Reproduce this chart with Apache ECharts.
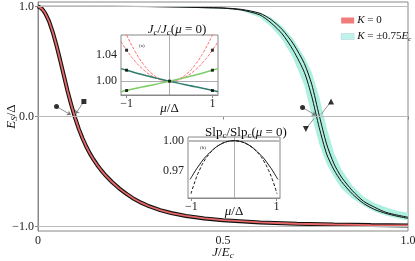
<!DOCTYPE html>
<html><head><meta charset="utf-8">
<script src="https://cdn.jsdelivr.net/npm/echarts@6/dist/echarts.min.js"></script>
<style>html,body{margin:0;padding:0;background:#fff}#c{width:415px;height:261px}</style>
</head><body><div id="c"></div>
<script>
const FONT = 'Liberation Serif';
// ---- main panel data (J/Ec , Es/Delta) ----
const redJ = [0, 0.005, 0.01, 0.015, 0.02, 0.03, 0.04, 0.05, 0.06, 0.07, 0.08, 0.09, 0.1, 0.11, 0.12, 0.13, 0.14, 0.15, 0.16, 0.17, 0.18, 0.2, 0.22, 0.24, 0.26, 0.28, 0.3, 0.33, 0.36, 0.4, 0.45, 0.5, 0.6, 0.7, 0.8, 0.9, 1.0];
const redE = [1.0, 0.995, 0.98, 0.96, 0.935, 0.865, 0.765, 0.645, 0.51, 0.37, 0.23, 0.105, -0.01, -0.11, -0.195, -0.27, -0.335, -0.39, -0.44, -0.485, -0.525, -0.595, -0.655, -0.705, -0.75, -0.785, -0.815, -0.85, -0.877, -0.903, -0.926, -0.942, -0.962, -0.974, -0.981, -0.986, -0.99];
const cyanJ  = [0, 0.1, 0.2, 0.3, 0.4, 0.45, 0.5, 0.55, 0.6, 0.63, 0.66, 0.69, 0.72, 0.74, 0.76, 0.78, 0.8, 0.82, 0.85, 0.88, 0.91, 0.94, 0.97, 1.0];
const cyanHi = [1.0, 1.0, 1.0, 1.0, 0.998, 0.994, 0.988, 0.975, 0.945, 0.90, 0.82, 0.705, 0.54, 0.40, 0.18, -0.10, -0.33, -0.48, -0.63, -0.73, -0.785, -0.825, -0.855, -0.875];
const cyanLo = [1.0, 1.0, 0.999, 0.996, 0.99, 0.984, 0.98, 0.96, 0.90, 0.815, 0.70, 0.53, 0.28, 0.01, -0.25, -0.43, -0.55, -0.655, -0.745, -0.81, -0.865, -0.90, -0.925, -0.945];
const blackA = [1.0, 1.0, 1.0, 0.999, 0.996, 0.99, 0.986, 0.973, 0.937, 0.88, 0.79, 0.66, 0.48, 0.29, 0.01, -0.25, -0.43, -0.55, -0.675, -0.77, -0.825, -0.87, -0.895, -0.915];
const blackB = [1.0, 1.0, 1.0, 0.998, 0.993, 0.988, 0.984, 0.967, 0.922, 0.85, 0.75, 0.60, 0.40, 0.18, -0.10, -0.34, -0.485, -0.59, -0.705, -0.79, -0.845, -0.88, -0.905, -0.925];
const refLines = [1, 0, -1];
const yTicks = [-1, 0, 1];
const xTicks = [0, 0.5, 1];
// annotation markers [J, E] and arrows
const markers = [
  {p: [0.050, 0.09], s: 'circle'}, {p: [0.124, 0.136], s: 'rect'},
  {p: [0.715, 0.082], s: 'circle'}, {p: [0.792, 0.136], s: 'triangle'}, {p: [0.724, -0.114], s: 'triangle', r: 180}
];
const arrows = [
  [[0.050, 0.09], [0.089, 0.015], true], [[0.124, 0.136], [0.101, 0.022], true],
  [[0.715, 0.082], [0.751, 0.01], true], [[0.765, 0.018], [0.790, 0.128], false], [[0.746, -0.018], [0.726, -0.105], false]
];
// ---- inset (a): Jc/Jc(mu=0) ----
const muA    = [-1.13, -1, -0.8, -0.6, -0.4, -0.2, 0, 0.2, 0.4, 0.6, 0.8, 1, 1.13];
const aRed1  = [1.060, 1.047, 1.030, 1.017, 1.0075, 1.0019, 1, 1.0019, 1.0075, 1.017, 1.030, 1.047, 1.060];
const aRed2  = [1.089, 1.070, 1.045, 1.025, 1.011, 1.003, 1, 1.003, 1.011, 1.025, 1.045, 1.070, 1.089];
const aTeal  = [1.019, 1.0166, 1.0128, 1.0093, 1.006, 1.003, 1, 0.997, 0.9942, 0.9915, 0.989, 0.9858, 0.984];
const aGreen = [0.984, 0.9858, 0.989, 0.9915, 0.9942, 0.997, 1, 1.003, 1.006, 1.0093, 1.0128, 1.0166, 1.019];
const aMarks = [[-1, 1.047], [1, 1.047], [-1, 1.0166], [1, 1.0166], [-1, 0.9858], [1, 0.9858], [0, 1]];
// ---- inset (b): Slpc/Slpc(mu=0) ----
const muB     = [-1.03, -0.9, -0.8, -0.7, -0.6, -0.5, -0.4, -0.3, -0.2, -0.1, 0, 0.1, 0.2, 0.3, 0.4, 0.5, 0.6, 0.7, 0.8, 0.9, 1.03];
const bSolid  = [0.962, 0.971, 0.977, 0.9826, 0.987, 0.991, 0.9943, 0.9968, 0.9986, 0.9996, 1, 0.9996, 0.9986, 0.9968, 0.9943, 0.991, 0.987, 0.9826, 0.977, 0.971, 0.962];
const muBd    = [-1.01, -0.9, -0.8, -0.7, -0.6, -0.5, -0.4, -0.3, -0.2, -0.1, 0, 0.1, 0.2, 0.3, 0.4, 0.5, 0.6, 0.7, 0.8, 0.9, 1.01];
const bDashed = [0.948, 0.962, 0.972, 0.980, 0.986, 0.9905, 0.9942, 0.9968, 0.9986, 0.9996, 1, 0.9996, 0.9986, 0.9968, 0.9942, 0.9905, 0.986, 0.980, 0.972, 0.962, 0.948];

const zip = (a, b) => a.map((v, i) => [v, b[i]]);
const MINUS = '\u2212';
const base = {fontFamily: FONT, fontWeight: 'normal', color: '#111'};
const mkRich = (fs) => ({
  i: Object.assign({}, base, {fontStyle: 'italic', fontSize: fs, lineHeight: fs + 2}),
  r: Object.assign({}, base, {fontSize: fs, lineHeight: fs + 2}),
  s: Object.assign({}, base, {fontStyle: 'italic', fontSize: Math.round(fs * 0.68), lineHeight: Math.round(fs * 0.68), verticalAlign: 'bottom'}),
  sr: Object.assign({}, base, {fontSize: Math.round(fs * 0.68), lineHeight: Math.round(fs * 0.68), verticalAlign: 'bottom'})
});
const rich11 = mkRich(11);
const rich13 = mkRich(13);
const tinyRich = {
  i: Object.assign({}, base, {fontStyle: 'italic', fontSize: 5, lineHeight: 6, color: '#222'}),
  r: Object.assign({}, base, {fontSize: 5, lineHeight: 6, color: '#222'}),
  s: Object.assign({}, base, {fontStyle: 'italic', fontSize: 3.5, lineHeight: 3.5, verticalAlign: 'bottom', color: '#222'})
};
const axisGray = '#888';
const lab = {fontFamily: FONT, fontSize: 12, color: '#222', margin: 4};
const fmtNum = (v) => (v < 0 ? MINUS : '') + Math.abs(v).toFixed(1);
const gridBase = {show: true, borderColor: axisGray, borderWidth: 1, containLabel: false, outerBoundsMode: 'none'};

const chart = echarts.init(document.getElementById('c'), null, {renderer: 'canvas'});
chart.setOption({
  animation: false,
  backgroundColor: '#fff',
  title: [
    {text: '{i|J}{s|c}{r|/}{i|J}{s|c}{r|(}{i|μ}{r| = 0)}', left: 172, top: 17, textAlign: 'center', textStyle: {rich: rich13, fontWeight: 'normal'}},
    {text: '{r|Slp}{sr|c}{r|/Slp}{sr|c}{r|(}{i|μ}{r| = 0)}', left: 241, top: 120, textAlign: 'center', textStyle: {rich: rich13, fontWeight: 'normal'}},
    {text: '{r|(a)}', left: 134, top: 38, textStyle: {rich: tinyRich, fontWeight: 'normal'}},
    {text: '{r|(b)}', left: 195, top: 140, textStyle: {rich: tinyRich, fontWeight: 'normal'}}
  ],
  legend: [
    {
      left: 336, top: 10, orient: 'vertical', itemWidth: 13, itemHeight: 6, itemGap: 5,
      data: [
        {name: 'K0', icon: 'rect', itemStyle: {color: '#f07c7c'}},
        {name: 'K75', icon: 'rect', itemStyle: {color: '#bff5e8', borderColor: '#9ad', borderWidth: 0.3}}
      ],
      formatter: (n) => n === 'K0' ? '{i|K}{r| = 0}' : '{i|K}{r| = ±0.75}{i|E}{s|c}',
      textStyle: {rich: rich11, padding: [0, 0, 0, -2]}
    },
    {
      left: 148, top: 38, orient: 'vertical', itemWidth: 12, itemHeight: 1.2, itemGap: 1.5,
      data: [
        {name: 'aK0', icon: 'rect', itemStyle: {color: '#ff7070'}},
        {name: 'aKp', icon: 'rect', itemStyle: {color: '#2e7d6e'}},
        {name: 'aKm', icon: 'rect', itemStyle: {color: '#7ccc6a'}}
      ],
      formatter: (n) => n === 'aK0' ? '{i|K}{r| = 0}' : (n === 'aKp' ? '{i|K}{r| = +0.75}{i|E}{s|c}' : '{i|K}{r| = ' + MINUS + '0.75}{i|E}{s|c}'),
      textStyle: {rich: tinyRich, padding: [0, 0, 0, 2]}
    }
  ],
  grid: [
    Object.assign({left: 38, right: 7, top: 2, bottom: 30, backgroundColor: 'transparent'}, gridBase),
    Object.assign({left: 121, top: 35, width: 97, height: 60, backgroundColor: '#fff', z: 5}, gridBase),
    Object.assign({left: 188, top: 137, width: 92, height: 61, backgroundColor: '#fff', z: 5}, gridBase)
  ],
  xAxis: [
    {gridIndex: 0, type: 'value', min: 0, max: 1, interval: 0.5,
     axisLine: {lineStyle: {color: axisGray}}, axisTick: {length: 3, lineStyle: {color: axisGray}},
     splitLine: {show: false}, axisLabel: Object.assign({}, lab, {formatter: (v) => v === 0 ? '0' : v.toFixed(1)}),
     name: '{i|J}{r|/}{i|E}{s|c}', nameLocation: 'middle', nameGap: 14, nameMoveOverlap: false, nameTextStyle: {rich: rich13}},
    {gridIndex: 1, type: 'value', min: -1.13, max: 1.13,
     axisLine: {lineStyle: {color: axisGray}}, axisTick: {length: 3, customValues: [-1, 1], lineStyle: {color: axisGray}},
     splitLine: {show: false}, axisLabel: Object.assign({}, lab, {customValues: [-1, 1], margin: 3, formatter: (v) => v < 0 ? MINUS + '1' : '1'}),
     name: '{i|μ}{r|/Δ}', nameLocation: 'middle', nameGap: 6, nameMoveOverlap: false, nameTextStyle: {rich: rich13}},
    {gridIndex: 2, type: 'value', min: -1.08, max: 1.08,
     axisLine: {lineStyle: {color: axisGray}}, axisTick: {length: 3, customValues: [-1, 1], lineStyle: {color: axisGray}},
     splitLine: {show: false}, axisLabel: Object.assign({}, lab, {customValues: [-1, 1], margin: 3, formatter: (v) => v < 0 ? MINUS + '1' : '1'}),
     name: '{i|μ}{r|/Δ}', nameLocation: 'middle', nameGap: 6, nameMoveOverlap: false, nameTextStyle: {rich: rich13}}
  ],
  yAxis: [
    {gridIndex: 0, type: 'value', min: -1.04, max: 1.04,
     axisLine: {show: true, lineStyle: {color: axisGray}}, axisTick: {show: true, length: 3, customValues: yTicks, lineStyle: {color: axisGray}},
     splitLine: {show: false}, axisLabel: Object.assign({}, lab, {customValues: yTicks, formatter: fmtNum}),
     name: '{i|E}{s|S}{r|/Δ}', nameLocation: 'middle', nameGap: 19, nameRotate: 90, nameMoveOverlap: false, nameTextStyle: {rich: rich13}},
    {gridIndex: 1, type: 'value', min: 0.979, max: 1.070,
     axisLine: {show: true, lineStyle: {color: axisGray}}, axisTick: {show: true, length: 3, customValues: [1.0, 1.04], lineStyle: {color: axisGray}},
     splitLine: {show: false}, axisLabel: Object.assign({}, lab, {customValues: [1.0, 1.04], formatter: (v) => v.toFixed(2)})},
    {gridIndex: 2, type: 'value', min: 0.9438, max: 1.0036,
     axisLine: {show: true, lineStyle: {color: axisGray}}, axisTick: {show: true, length: 3, customValues: [0.97, 1.0], lineStyle: {color: axisGray}},
     splitLine: {show: false}, axisLabel: Object.assign({}, lab, {customValues: [0.97, 1.0], formatter: (v) => v.toFixed(2)})}
  ],
  series: [
    {type: 'line', xAxisIndex: 0, yAxisIndex: 0, data: [], z: 1, silent: true,
     markLine: {silent: true, symbol: 'none', label: {show: false}, lineStyle: {color: '#bbb', width: 1, type: 'solid'},
       data: refLines.map((v) => ({yAxis: v}))}},
    {type: 'custom', name: 'K75', xAxisIndex: 0, yAxisIndex: 0, z: 2, data: [[0.5, 0]], itemStyle: {color: '#bff5e8'}, clip: true,
     renderItem: (params, api) => {
       const pts = [];
       for (let i = 0; i < cyanJ.length; i++) pts.push(api.coord([cyanJ[i], cyanHi[i]]));
       for (let i = cyanJ.length - 1; i >= 0; i--) pts.push(api.coord([cyanJ[i], cyanLo[i]]));
       return {type: 'polygon', shape: {points: pts}, style: {fill: '#aef0df', stroke: null}};
     }},
    {type: 'line', xAxisIndex: 0, yAxisIndex: 0, data: zip(cyanJ, blackA), smooth: 0.25, symbol: 'none', z: 3, lineStyle: {color: '#111', width: 1}},
    {type: 'line', xAxisIndex: 0, yAxisIndex: 0, data: zip(cyanJ, blackB), smooth: 0.25, symbol: 'none', z: 3, lineStyle: {color: '#111', width: 1}},
    {type: 'line', xAxisIndex: 0, yAxisIndex: 0, data: zip(redJ, redE), symbol: 'none', z: 3, lineStyle: {color: '#111', width: 4}},
    {type: 'line', name: 'K0', xAxisIndex: 0, yAxisIndex: 0, data: zip(redJ, redE), symbol: 'none', z: 4, itemStyle: {color: '#f07c7c'}, lineStyle: {color: '#e86868', width: 1.8}},
    {type: 'lines', coordinateSystem: 'cartesian2d', xAxisIndex: 0, yAxisIndex: 0, z: 6, symbolSize: 4,
     lineStyle: {color: '#777', width: 0.8, opacity: 1},
     data: arrows.map((a) => ({coords: [a[0], a[1]], symbol: a[2] ? ['none', 'arrow'] : ['none', 'none']}))},
    {type: 'scatter', xAxisIndex: 0, yAxisIndex: 0, z: 7, symbolSize: 5, itemStyle: {color: '#000'},
     data: markers.map((m) => ({value: m.p, symbol: m.s, symbolRotate: m.r || 0, symbolSize: m.s === 'triangle' ? 6 : 5}))},
    {type: 'line', xAxisIndex: 1, yAxisIndex: 1, data: [], z: 6, silent: true,
     markLine: {silent: true, symbol: 'none', label: {show: false}, lineStyle: {color: '#999', width: 0.8, type: 'solid'},
       data: [{yAxis: 1.0}, {xAxis: 0}]}},
    {type: 'line', name: 'aK0', xAxisIndex: 1, yAxisIndex: 1, data: zip(muA, aRed1), smooth: true, symbol: 'none', z: 7, lineStyle: {color: '#ff6b6b', width: 1, type: [3, 1.5]}},
    {type: 'line', xAxisIndex: 1, yAxisIndex: 1, data: zip(muA, aRed2), smooth: true, symbol: 'none', z: 7, lineStyle: {color: '#ff6b6b', width: 1, type: [3, 1.5]}},
    {type: 'line', name: 'aKp', xAxisIndex: 1, yAxisIndex: 1, data: zip(muA, aTeal), smooth: true, symbol: 'none', z: 7, lineStyle: {color: '#2e7d6e', width: 1.5}},
    {type: 'line', name: 'aKm', xAxisIndex: 1, yAxisIndex: 1, data: zip(muA, aGreen), smooth: true, symbol: 'none', z: 7, lineStyle: {color: '#7ccc6a', width: 1.5}},
    {type: 'scatter', xAxisIndex: 1, yAxisIndex: 1, data: aMarks, z: 8, symbol: 'rect', symbolSize: 3, itemStyle: {color: '#000'}},
    {type: 'line', xAxisIndex: 2, yAxisIndex: 2, data: [], z: 6, silent: true,
     markLine: {silent: true, symbol: 'none', label: {show: false}, lineStyle: {color: '#999', width: 0.8, type: 'solid'},
       data: [{yAxis: 1.0, lineStyle: {color: '#bbb', width: 2}}, {xAxis: 0}]}},
    {type: 'line', xAxisIndex: 2, yAxisIndex: 2, data: zip(muB, bSolid), smooth: true, symbol: 'none', z: 7, lineStyle: {color: '#111', width: 1}},
    {type: 'line', xAxisIndex: 2, yAxisIndex: 2, data: zip(muBd, bDashed), smooth: true, symbol: 'none', z: 7, lineStyle: {color: '#111', width: 1, type: [3, 2]}}
  ]
});
</script>
</body></html>
